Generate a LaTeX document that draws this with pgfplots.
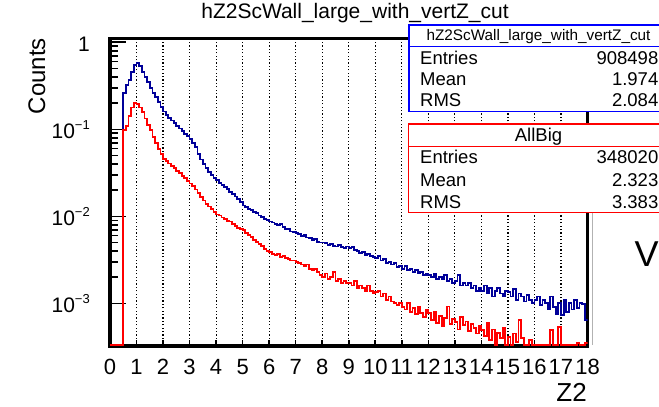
\documentclass[border=0pt]{standalone}
\usepackage{pgfplots}
\pgfplotsset{compat=1.18}
\usepackage{pgfplotstable}
\usepackage{fontspec}
\setmainfont{Liberation Sans}

\definecolor{histblue}{RGB}{0,0,153}
\definecolor{histred}{RGB}{255,0,0}
\definecolor{boxblue}{RGB}{0,0,255}
\definecolor{boxred}{RGB}{255,0,0}

\newcommand\fs[1]{\fontsize{#1bp}{#1bp}\selectfont}
\newcommand\tenpow[1]{10\raisebox{9bp}{\fs{13}−#1}}

% hZ2ScWall_large_with_vertZ_cut, bins of 0.1 (left edges); empty bins sit on the floor
\pgfplotstableread[row sep=\\]{
x y\\
0.0 3.3e-4\\ 0.5 0.259\\ 0.6 0.323\\ 0.7 0.369\\ 0.8 0.459\\ 0.9 0.548\\
1.0 0.574\\ 1.1 0.530\\ 1.2 0.460\\ 1.3 0.400\\ 1.4 0.350\\ 1.5 0.300\\ 1.6 0.262\\ 1.7 0.235\\ 1.8 0.205\\ 1.9 0.180\\
2.0 0.160\\ 2.1 0.147\\ 2.2 0.136\\ 2.3 0.126\\ 2.4 0.117\\ 2.5 0.109\\ 2.6 0.102\\ 2.7 0.095\\ 2.8 0.089\\ 2.9 0.083\\
3.0 0.077\\ 3.1 0.070\\ 3.2 0.062\\ 3.3 0.052\\ 3.4 0.045\\ 3.5 0.040\\ 3.6 0.036\\ 3.7 0.0325\\ 3.8 0.0298\\ 3.9 0.0276\\
4.0 0.0260\\ 4.1 0.0243\\ 4.2 0.0229\\ 4.3 0.0216\\ 4.4 0.0204\\ 4.5 0.0192\\ 4.6 0.0180\\ 4.7 0.0169\\ 4.8 0.0158\\ 4.9 0.0146\\
5.0 0.0133\\ 5.1 0.0128\\ 5.2 0.0121\\ 5.3 0.0118\\ 5.4 0.0112\\ 5.5 0.0109\\ 5.6 0.0102\\ 5.7 0.0099\\ 5.8 0.0094\\ 5.9 0.0091\\
6.0 0.0087\\ 6.1 0.0085\\ 6.2 0.0081\\ 6.3 0.0080\\ 6.4 0.0082\\ 6.5 0.0075\\ 6.6 0.0072\\ 6.7 0.0071\\ 6.8 0.0067\\ 6.9 0.0066\\
7.0 0.0064\\ 7.1 0.0062\\ 7.2 0.0060\\ 7.3 0.0061\\ 7.4 0.0057\\ 7.5 0.0056\\ 7.6 0.0054\\ 7.7 0.0055\\ 7.8 0.0051\\ 7.9 0.0050\\
8.0 0.0050\\ 8.1 0.0049\\ 8.2 0.0047\\ 8.3 0.0048\\ 8.4 0.0046\\ 8.5 0.0045\\ 8.6 0.0047\\ 8.7 0.0044\\ 8.8 0.0043\\ 8.9 0.0045\\
9.0 0.0043\\ 9.1 0.0044\\ 9.2 0.0041\\ 9.3 0.0040\\ 9.4 0.0038\\ 9.5 0.0039\\ 9.6 0.0036\\ 9.7 0.0037\\ 9.8 0.0035\\ 9.9 0.0034\\
10.0 0.0033\\ 10.1 0.0035\\ 10.2 0.0031\\ 10.3 0.0032\\ 10.4 0.0029\\ 10.5 0.0030\\ 10.6 0.0028\\ 10.7 0.0029\\ 10.8 0.0026\\ 10.9 0.0027\\
11.0 0.0025\\ 11.1 0.0027\\ 11.2 0.0024\\ 11.3 0.0025\\ 11.4 0.0023\\ 11.5 0.0024\\ 11.6 0.0022\\ 11.7 0.0023\\ 11.8 0.0021\\ 11.9 0.0022\\
12.0 0.0021\\ 12.1 0.0020\\ 12.2 0.0022\\ 12.3 0.0019\\ 12.4 0.0020\\ 12.5 0.0019\\ 12.6 0.0021\\ 12.7 0.0018\\ 12.8 0.0019\\ 12.9 0.0017\\
13.0 0.0018\\ 13.1 0.0021\\ 13.2 0.0016\\ 13.3 0.0017\\ 13.4 0.0016\\ 13.5 0.0017\\ 13.6 0.0015\\ 13.7 0.0016\\ 13.8 0.0014\\ 13.9 0.0015\\
14.0 0.0014\\ 14.1 0.0016\\ 14.2 0.0013\\ 14.3 0.0015\\ 14.4 0.0012\\ 14.5 0.0014\\ 14.6 0.0015\\ 14.7 0.0013\\ 14.8 0.0012\\ 14.9 0.0014\\
15.0 0.00135\\ 15.1 0.0012\\ 15.2 0.00145\\ 15.3 0.0011\\ 15.4 0.0013\\ 15.5 0.0012\\ 15.6 0.00105\\ 15.7 0.00125\\ 15.8 0.0011\\ 15.9 0.0010\\
16.0 0.0011\\ 16.1 0.0012\\ 16.2 0.00095\\ 16.3 0.0011\\ 16.4 0.0010\\ 16.5 0.00085\\ 16.6 0.0012\\ 16.7 0.00090\\ 16.8 0.00075\\ 16.9 0.0010\\
17.0 0.00074\\ 17.1 0.0011\\ 17.2 0.00080\\ 17.3 0.0010\\ 17.4 0.00085\\ 17.5 0.0011\\ 17.6 0.00088\\ 17.7 0.0010\\ 17.8 0.00098\\ 17.9 0.00064\\
18.0 0.00064\\
}\bluehist

% AllBig, same binning
\pgfplotstableread[row sep=\\]{
x y\\
0.0 3.3e-4\\ 0.5 0.098\\ 0.6 0.110\\ 0.7 0.143\\ 0.8 0.178\\ 0.9 0.200\\
1.0 0.196\\ 1.1 0.178\\ 1.2 0.158\\ 1.3 0.133\\ 1.4 0.113\\ 1.5 0.098\\ 1.6 0.082\\ 1.7 0.070\\ 1.8 0.060\\ 1.9 0.052\\
2.0 0.046\\ 2.1 0.043\\ 2.2 0.0405\\ 2.3 0.038\\ 2.4 0.0360\\ 2.5 0.0335\\ 2.6 0.0312\\ 2.7 0.0292\\ 2.8 0.0275\\ 2.9 0.0256\\
3.0 0.0238\\ 3.1 0.0222\\ 3.2 0.0203\\ 3.3 0.0184\\ 3.4 0.0166\\ 3.5 0.0152\\ 3.6 0.0140\\ 3.7 0.0130\\ 3.8 0.0121\\ 3.9 0.0112\\
4.0 0.0105\\ 4.1 0.0102\\ 4.2 0.0097\\ 4.3 0.0094\\ 4.4 0.0089\\ 4.5 0.0087\\ 4.6 0.0081\\ 4.7 0.0078\\ 4.8 0.0074\\ 4.9 0.0072\\
5.0 0.0069\\ 5.1 0.0065\\ 5.2 0.0061\\ 5.3 0.0058\\ 5.4 0.0054\\ 5.5 0.0051\\ 5.6 0.0048\\ 5.7 0.0046\\ 5.8 0.0042\\ 5.9 0.0040\\
6.0 0.0039\\ 6.1 0.0037\\ 6.2 0.0036\\ 6.3 0.0037\\ 6.4 0.0034\\ 6.5 0.0035\\ 6.6 0.0033\\ 6.7 0.0032\\ 6.8 0.0031\\ 6.9 0.0031\\
7.0 0.0030\\ 7.1 0.0029\\ 7.2 0.0028\\ 7.3 0.0027\\ 7.4 0.0028\\ 7.5 0.0025\\ 7.6 0.0024\\ 7.7 0.0025\\ 7.8 0.0023\\ 7.9 0.0021\\
8.0 0.0020\\ 8.1 0.0022\\ 8.2 0.0019\\ 8.3 0.0020\\ 8.4 0.0023\\ 8.5 0.0018\\ 8.6 0.0019\\ 8.7 0.0017\\ 8.8 0.0018\\ 8.9 0.0017\\
9.0 0.0017\\ 9.1 0.0016\\ 9.2 0.0018\\ 9.3 0.0015\\ 9.4 0.0016\\ 9.5 0.0015\\ 9.6 0.0014\\ 9.7 0.0016\\ 9.8 0.0014\\ 9.9 0.0013\\
10.0 0.00136\\ 10.1 0.0014\\ 10.2 0.0012\\ 10.3 0.0013\\ 10.4 0.0011\\ 10.5 0.0012\\ 10.6 0.00105\\ 10.7 0.0010\\ 10.8 0.00095\\ 10.9 0.0010\\
11.0 0.00091\\ 11.1 0.00085\\ 11.2 0.0010\\ 11.3 0.00080\\ 11.4 0.00088\\ 11.5 0.00075\\ 11.6 0.00092\\ 11.7 0.00078\\ 11.8 0.00070\\ 11.9 0.00085\\
12.0 0.00077\\ 12.1 0.00065\\ 12.2 0.00080\\ 12.3 0.00060\\ 12.4 0.00072\\ 12.5 0.00055\\ 12.6 0.00068\\ 12.7 0.00092\\ 12.8 0.00058\\ 12.9 0.00066\\
13.0 0.00061\\ 13.1 0.00050\\ 13.2 0.00070\\ 13.3 0.00056\\ 13.4 0.00062\\ 13.5 0.00048\\ 13.6 0.00058\\ 13.7 0.00052\\ 13.8 0.00045\\ 13.9 0.00055\\
14.0 0.00049\\ 14.1 0.00042\\ 14.2 0.00060\\ 14.3 0.00038\\ 14.4 0.00050\\ 14.5 3.3e-4\\ 14.6 0.00046\\ 14.7 0.00040\\ 14.8 0.00052\\ 14.9 3.3e-4\\
15.0 0.00041\\ 15.1 3.3e-4\\ 15.2 0.00045\\ 15.3 0.00036\\ 15.4 0.00064\\ 15.5 0.00040\\ 15.6 3.3e-4\\ 15.7 3.3e-4\\ 15.8 0.00038\\ 15.9 3.3e-4\\
16.0 3.3e-4\\ 16.1 3.3e-4\\ 16.2 3.3e-4\\ 16.3 3.3e-4\\ 16.4 3.3e-4\\ 16.5 3.3e-4\\ 16.6 0.00049\\ 16.7 3.3e-4\\ 16.8 3.3e-4\\ 16.9 0.00053\\
17.0 3.3e-4\\ 17.1 3.3e-4\\ 17.2 3.3e-4\\ 17.3 3.3e-4\\ 17.4 3.3e-4\\ 17.5 3.3e-4\\ 17.6 3.5e-4\\ 17.7 3.3e-4\\ 17.8 3.3e-4\\ 17.9 3.5e-4\\
18.0 3.5e-4\\
}\redhist

\begin{document}
\begin{tikzpicture}
\path[use as bounding box] (0,0) rectangle (659bp,407bp);
\clip (0,0) rectangle (659bp,407bp);

\begin{axis}[
  at={(110bp,61.3bp)}, anchor=south west,
  scale only axis, width=477.5bp, height=307bp,
  xmin=0, xmax=18, ymode=log, ymin=3.26e-4, ymax=1.1,
  enlargelimits=false, clip=true,
  axis line style={line width=3.6bp, black},
  tick pos=left, tick align=inside,
  tick style={black, line width=1.6bp},
  major tick length=16bp, minor tick length=8bp,
  xtick style={/pgfplots/major tick length=6bp},
  xtick={0,1,2,3,4,5,6,7,8,9,10,11,12,13,14,15,16,17,18},
  xticklabels={0,1,2,3,4,5,6,7,8,9,10,11,12,13,14,15,16,17,18},
  xticklabel style={font=\fs{22}, inner sep=0pt, anchor=base, yshift=-28.5bp},
  ytick={0.001,0.01,0.1,1},
  yticklabels={\tenpow{3},\tenpow{2},\tenpow{1},1},
  yticklabel style={font=\fs{21}, inner sep=0pt, anchor=base east, xshift=-20bp, yshift=-9.5bp},
  xmajorgrids,
  major x grid style={black, line width=1.2bp, dash pattern=on 1.2bp off 2.2bp},
]
\addplot[const plot, histblue, line width=1.8bp] table[x=x, y=y] {\bluehist};
\addplot[const plot, histred, line width=1.8bp] table[x=x, y=y] {\redhist};
\end{axis}

% title and axis titles
\node[font=\fs{21}, anchor=base, inner sep=0pt] at (355bp,388.5bp) {hZ2ScWall\_large\_with\_vertZ\_cut};
\node[rotate=90, anchor=base east, font=\fs{24}, inner sep=0pt] at (45bp,369bp) {Counts};
\node[anchor=base east, font=\fs{26}, inner sep=0pt] at (587bp,5.3bp) {Z2};

% statistics box of hZ2ScWall_large_with_vertZ_cut
\draw[boxblue, line width=1.5bp, fill=white] (409bp,295.3bp) rectangle (668bp,382bp);
\draw[boxblue, line width=1.5bp] (409bp,360.3bp) -- (668bp,360.3bp);
\node[font=\fs{15.3}, anchor=base, inner sep=0pt] at (538.5bp,366.5bp) {hZ2ScWall\_large\_with\_vertZ\_cut};
\begin{scope}[every node/.style={font=\fs{18.5}, inner sep=0pt}]
\node[anchor=base west] at (420bp,342.2bp) {Entries};
\node[anchor=base east] at (658.5bp,342.2bp) {908498};
\node[anchor=base west] at (420bp,321.2bp) {Mean};
\node[anchor=base east] at (658.5bp,321.2bp) {1.974};
\node[anchor=base west] at (420bp,300.5bp) {RMS};
\node[anchor=base east] at (658.5bp,300.5bp) {2.084};
\end{scope}

% statistics box of AllBig
\draw[boxred, line width=1.5bp, fill=white] (408.3bp,194.7bp) rectangle (668bp,283bp);
\draw[boxred, line width=1.5bp] (408.3bp,260.3bp) -- (668bp,260.3bp);
\begin{scope}[every node/.style={font=\fs{18.5}, inner sep=0pt}]
\node[anchor=base] at (538.5bp,265.4bp) {AllBig};
\node[anchor=base west] at (420bp,243.8bp) {Entries};
\node[anchor=base east] at (658.5bp,243.8bp) {348020};
\node[anchor=base west] at (420bp,220.5bp) {Mean};
\node[anchor=base east] at (658.5bp,220.5bp) {2.323};
\node[anchor=base west] at (420bp,198.8bp) {RMS};
\node[anchor=base east] at (658.5bp,198.8bp) {3.383};
\end{scope}

% window edge and neighbouring text
\draw[gray!60, line width=1bp] (592bp,194bp) -- (592bp,62bp);
\node[anchor=base west, font=\fs{36}, inner sep=0pt] at (634.5bp,140.3bp) {V};
\end{tikzpicture}
\end{document}
